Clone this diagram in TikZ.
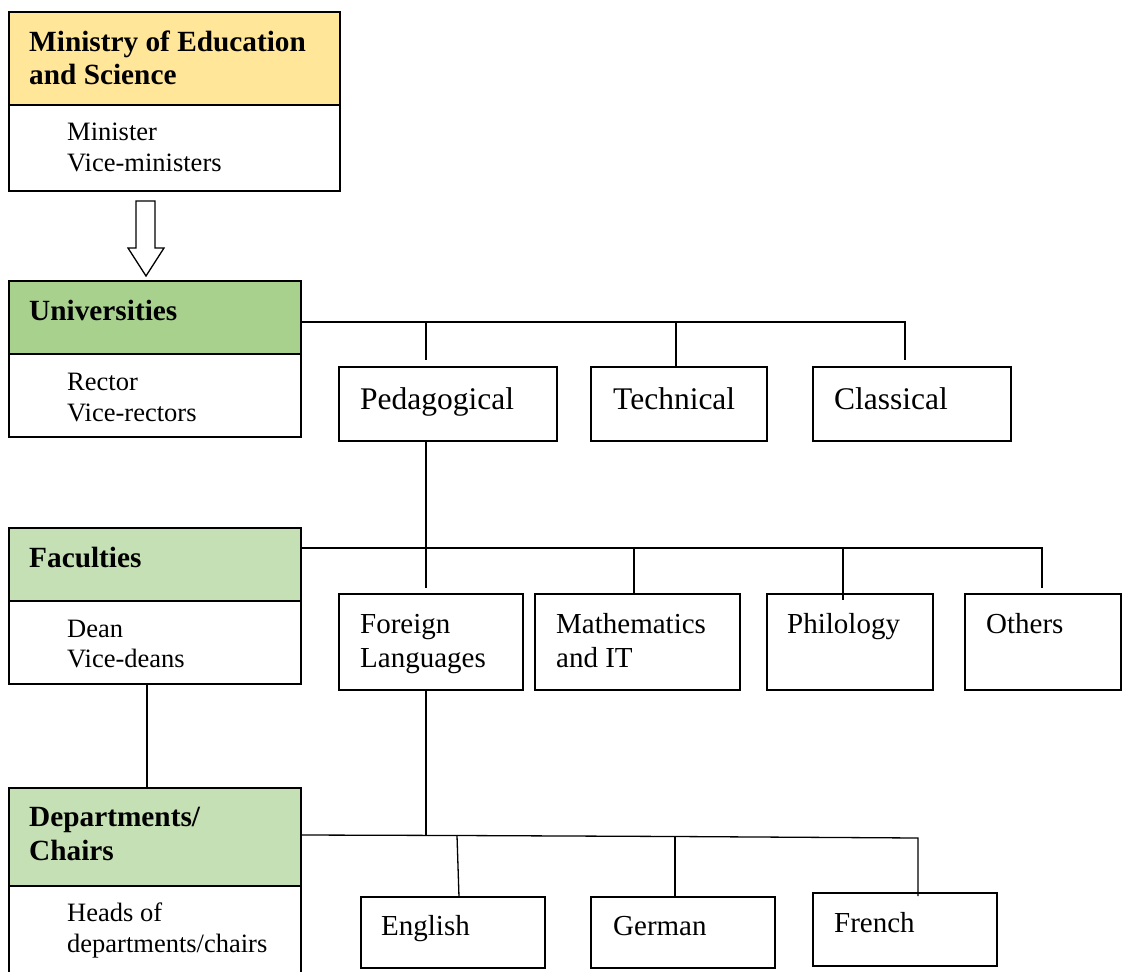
\documentclass[tikz,border=0pt]{standalone}
\usepackage{fontspec}
\setmainfont{Liberation Serif}
\definecolor{gold}{HTML}{FFE699}
\definecolor{greenA}{HTML}{A9D18E}
\definecolor{greenB}{HTML}{C5E0B4}
\begin{document}
\begin{tikzpicture}[x=1pt,y=-1pt,
  box/.style={draw=black, line width=1.6pt, anchor=north west, inner sep=0pt, outer sep=0pt},
  conn/.style={line width=1.3pt, black},
  hd/.style={anchor=base west, inner sep=0pt, font=\fontsize{29.3}{34}\bfseries\selectfont},
  sm/.style={anchor=base west, inner sep=0pt, font=\fontsize{26.5}{31}\selectfont},
  big/.style={anchor=base west, inner sep=0pt, font=\fontsize{31.5}{36}\selectfont},
  mid/.style={anchor=base west, inner sep=0pt, font=\fontsize{29}{34}\selectfont},
]
\path[use as bounding box, clip] (0,0) rectangle (1122,972);
\fill[white] (0,0) rectangle (1122,972);

% left column: levels of the hierarchy
\node[box, fill=gold,   minimum width=331pt, minimum height=93pt] (minH) at (9,12) {};
\node[box, fill=white,  minimum width=331pt, minimum height=86pt] (minB) at (9,105) {};
\node[box, fill=greenA, minimum width=292pt, minimum height=73pt] (univH) at (9,281) {};
\node[box, fill=white,  minimum width=292pt, minimum height=83pt] (univB) at (9,354) {};
\node[box, fill=greenB, minimum width=292pt, minimum height=73pt] (facH) at (9,528) {};
\node[box, fill=white,  minimum width=292pt, minimum height=83pt] (facB) at (9,601) {};
\node[box, fill=greenB, minimum width=292pt, minimum height=98pt] (depH) at (9,788) {};
\node[box, fill=white,  minimum width=292pt, minimum height=100pt] (depB) at (9,886) {};

\node[hd] (tMin1) at (29,51) {Ministry of Education};
\node[hd] (tMin2) at (29,84) {and Science};
\node[sm] (tMin3) at (67,140) {Minister};
\node[sm] (tMin4) at (67,171) {Vice-ministers};
\node[hd] (tUni1) at (29,320) {Universities};
\node[sm] (tUni2) at (67,390) {Rector};
\node[sm] (tUni3) at (67,421) {Vice-rectors};
\node[hd] (tFac1) at (29,567) {Faculties};
\node[sm] (tFac2) at (67,637) {Dean};
\node[sm] (tFac3) at (67,667) {Vice-deans};
\node[hd] (tDep1) at (29,826) {Departments/};
\node[hd] (tDep2) at (29,860) {Chairs};
\node[sm] (tDep3) at (67,921) {Heads of};
\node[sm] (tDep4) at (67,952) {departments/chairs};

% types of universities
\node[box, minimum width=218pt, minimum height=74pt] (peda) at (339,367) {};
\node[box, minimum width=176pt, minimum height=74pt] (tech) at (591,367) {};
\node[box, minimum width=198pt, minimum height=74pt] (clas) at (813,367) {};
\node[big] (tPeda) at (360,409) {Pedagogical};
\node[big] (tTech) at (613,409) {Technical};
\node[big] (tClas) at (834,409) {Classical};

% faculties
\node[box, minimum width=184pt, minimum height=96pt] (forl) at (339,594) {};
\node[box, minimum width=205pt, minimum height=96pt] (math) at (535,594) {};
\node[box, minimum width=166pt, minimum height=96pt] (phil) at (767,594) {};
\node[box, minimum width=156pt, minimum height=96pt] (oth)  at (965,594) {};
\node[mid] (tFor1) at (360,633) {Foreign};
\node[mid] (tFor2) at (360,667) {Languages};
\node[mid] (tMat1) at (556,633) {Mathematics};
\node[mid] (tMat2) at (556,667) {and IT};
\node[mid] (tPhi)  at (787,633) {Philology};
\node[mid] (tOth)  at (986,633) {Others};

% departments
\node[box, minimum width=184pt, minimum height=71pt] (eng) at (361,897) {};
\node[box, minimum width=184pt, minimum height=71pt] (ger) at (591,897) {};
\node[box, minimum width=184pt, minimum height=73pt] (fre) at (813,893) {};
\node[mid] (tEng) at (381,935) {English};
\node[mid] (tGer) at (613,935) {German};
\node[mid] (tFre) at (834,932) {French};

% hollow block arrow from the ministry to the universities
\draw[line width=1.3pt, fill=white]
  (136,201) -- (155,201) -- (155,248) -- (164,248) -- (146,276)
  -- (128,248) -- (136,248) -- cycle;

% connectors: universities
\coordinate (ub1) at (426,322);
\coordinate (ub2) at (676,322);
\coordinate (ub3) at (905,322);
\coordinate (ue1) at (426,360);
\coordinate (ue3) at (905,360);
\draw[conn] (univH.east |- ub1) -- (ub3) -- (ue3);
\draw[conn] (ub1) -- (ue1);
\draw[conn] (ub2) -- (tech.north -| ub2);

% connectors: faculties
\coordinate (fb1) at (634,548);
\coordinate (fb2) at (843,548);
\coordinate (fb3) at (1042,548);
\draw[conn] (peda.south -| ub1) -- (426,588);
\draw[conn] (facH.east |- fb1) -- (fb3) -- (1042,588);
\draw[conn] (fb1) -- (math.north -| fb1);
\draw[conn] (fb2) -- (843,600);
\draw[conn] (facB.south -| 147,0) -- (depH.north -| 147,0);

% connectors: departments
\coordinate (db0) at (301,835);
\coordinate (db1) at (457,835.5);
\coordinate (db2) at (675,836.5);
\coordinate (db3) at (918,838);
\draw[conn] (forl.south -| 426,0) -- (426,835.3);
\draw[conn] (depH.east |- db0) -- (db1) -- (db2) -- (db3) -- (918,896);
\draw[conn] (db1) -- (459,897);
\draw[conn] (db2) -- (ger.north -| db2);
\end{tikzpicture}
\end{document}
